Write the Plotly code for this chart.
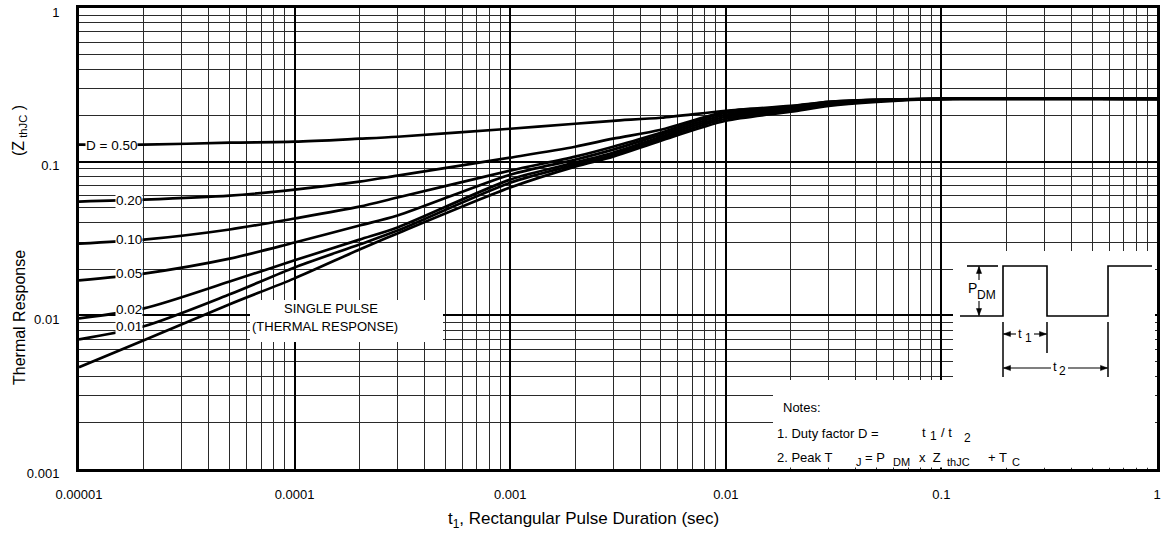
import plotly.graph_objects as go

# ---------------- data ----------------
t_sec = [1e-5, 2e-5, 5e-5, 1e-4, 2e-4, 3e-4, 1e-3, 2e-3, 3e-3, 5e-3,
         1e-2, 2e-2, 3e-2, 5e-2, 0.1, 1.0]

z_d050 = [0.1289, 0.1289, 0.1329, 0.1349, 0.1411, 0.1453, 0.1638, 0.1765, 0.1845, 0.1931,
          0.2144, 0.2310, 0.2453, 0.2527, 0.2565, 0.2565]
z_d020 = [0.0550, 0.0566, 0.0601, 0.0658, 0.0742, 0.0811, 0.1062, 0.1251, 0.1411, 0.1614,
          0.2112, 0.2276, 0.2453, 0.2527, 0.2565, 0.2565]
z_d010 = [0.0293, 0.0311, 0.0362, 0.0427, 0.0510, 0.0584, 0.0874, 0.1078, 0.1251, 0.1543,
          0.2081, 0.2242, 0.2416, 0.2527, 0.2565, 0.2565]
z_d005 = [0.0169, 0.0187, 0.0234, 0.0298, 0.0384, 0.0446, 0.0823, 0.1030, 0.1197, 0.1497,
          0.2019, 0.2209, 0.2380, 0.2489, 0.2565, 0.2565]
z_d002 = [0.00956, 0.0111, 0.0166, 0.0228, 0.0311, 0.0373, 0.0764, 0.0985, 0.1144, 0.1453,
          0.1960, 0.2176, 0.2345, 0.2489, 0.2565, 0.2565]
z_d001 = [0.00698, 0.00849, 0.0137, 0.0205, 0.0289, 0.0356, 0.0730, 0.0956, 0.1110, 0.1411,
          0.1902, 0.2144, 0.2345, 0.2489, 0.2565, 0.2565]
z_single = [0.00460, 0.00688, 0.0118, 0.0174, 0.0268, 0.0341, 0.0678, 0.0928, 0.1078, 0.1369,
            0.1845, 0.2112, 0.2310, 0.2453, 0.2565, 0.2565]

series = [("D = 0.50", z_d050), ("0.20", z_d020), ("0.10", z_d010), ("0.05", z_d005),
          ("0.02", z_d002), ("0.01", z_d001), ("SINGLE PULSE", z_single)]

x_tickvals = [1e-5, 1e-4, 1e-3, 1e-2, 1e-1, 1]
x_ticktext = ["0.00001", "0.0001", "0.001", "0.01", "0.1", "1"]
y_tickvals = [1e-3, 1e-2, 1e-1, 1]
y_ticktext = ["0.001", "0.01", "0.1", "1"]

# ---------------- layout geometry (pixels) ----------------
FW, FH = 1161, 538
L, R, T, B = 79, 1157, 8, 469    # plot area


def px(x):
    return (x - L) / (R - L)


def py(y):
    return (B - y) / (B - T)


FONT = "Liberation Sans, Arial, Helvetica, sans-serif"

fig = go.Figure()
for name, z in series:
    fig.add_trace(go.Scatter(x=t_sec, y=z, mode="lines", name=name,
                             line=dict(color="black", width=2.7, shape="spline", smoothing=0.8),
                             showlegend=False, hoverinfo="skip"))

minor_x = [k * 10.0 ** e for e in range(-5, 0) for k in range(2, 10)]
minor_y = [k * 10.0 ** e for e in range(-3, 0) for k in range(2, 10)]

axis_common = dict(
    showline=True, linecolor="black", linewidth=3, mirror=True,
    showgrid=True, gridcolor="black", gridwidth=2,
    ticks="", zeroline=False, automargin=False, ticklabeloverflow="allow",
    tickfont=dict(family=FONT, size=13, color="black"),
)

fig.update_xaxes(type="log", range=[-5, 0], tickmode="array",
                 tickvals=x_tickvals, ticktext=x_ticktext,
                 minor=dict(tickmode="array", tickvals=minor_x, showgrid=True,
                            gridcolor="#2a2a2a", gridwidth=1),
                 ticklabelstandoff=11, **axis_common)
fig.update_yaxes(type="log", range=[-3, 0], tickmode="array",
                 tickvals=y_tickvals, ticktext=y_ticktext,
                 minor=dict(tickmode="array", tickvals=minor_y, showgrid=True,
                            gridcolor="#2a2a2a", gridwidth=1),
                 ticklabelstandoff=14, ticklabelshift=4, **axis_common)

shapes = []
# white cut-outs hiding the grid (nothing from the curves lies under them)
for (x0, y0, x1, y1) in [(773, 380, 1155, 467.5), (953, 251, 1155, 467.5), (250, 300, 443, 342)]:
    shapes.append(dict(type="rect", xref="paper", yref="paper",
                       x0=px(x0), x1=px(x1), y0=py(y1), y1=py(y0),
                       fillcolor="white", line=dict(width=0), layer="above"))


def seg(x0, y0, x1, y1, w=1.5):
    shapes.append(dict(type="line", xref="paper", yref="paper",
                       x0=px(x0), y0=py(y0), x1=px(x1), y1=py(y1),
                       line=dict(color="black", width=w), layer="above"))


def poly(pts, fill=None, w=1.6):
    path = "M " + " L ".join(f"{px(a):.5f},{py(b):.5f}" for a, b in pts)
    if fill:
        path += " Z"
    d = dict(type="path", xref="paper", yref="paper", path=path,
             line=dict(color="black", width=w if not fill else 0.5), layer="above")
    if fill:
        d["fillcolor"] = fill
    shapes.append(d)


# waveform
poly([(960, 316), (1003, 316), (1003, 266), (1047, 266), (1047, 316),
      (1108, 316), (1108, 266), (1152, 266)])
seg(967, 266, 998, 266, 1.6)
# t1 / t2 extension lines
seg(1003, 322, 1003, 377)
seg(1047, 322, 1047, 353)
seg(1108, 322, 1108, 377)


def arrow(tipx, tipy, tailx, taily):
    seg(tailx, taily, tipx, tipy, 1.1)
    dx, dy = tipx - tailx, tipy - taily
    n = (dx * dx + dy * dy) ** 0.5
    ux, uy = dx / n, dy / n
    bx, by = tipx - 7 * ux, tipy - 7 * uy
    poly([(tipx, tipy), (bx - 2.6 * uy, by + 2.6 * ux), (bx + 2.6 * uy, by - 2.6 * ux)], fill="black")


arrow(979, 266.5, 979, 280)
arrow(979, 315.5, 979, 301)
arrow(1003.5, 334, 1016, 334)
arrow(1046.5, 334, 1034, 334)
arrow(1003.5, 368, 1051, 368)
arrow(1107.5, 368, 1068, 368)

annotations = []


def txt(x, y, s, size=13, xanchor="center", bg=None, pad=0, textangle=0):
    d = dict(xref="paper", yref="paper", x=px(x), y=py(y), text=s, showarrow=False,
             xanchor=xanchor, yanchor="middle", textangle=textangle,
             font=dict(family=FONT, size=size, color="black"), borderpad=pad)
    if bg:
        d["bgcolor"] = bg
    annotations.append(d)


# inset labels
txt(972, 288, "P", 14)
txt(986, 295, "DM", 12)
txt(1020, 333, "t", 13)
txt(1028, 338, "1", 12)
txt(1055, 366, "t", 13)
txt(1062, 371, "2", 12)

# curve labels
txt(111, 145, "D = 0.50", 13.5, bg="white")
txt(129, 200, "0.20", 13.5, bg="white")
txt(129, 240, "0.10", 13.5, bg="white")
txt(129, 273, "0.05", 13.5, bg="white")
txt(129, 309, "0.02", 13.5, bg="white")
txt(129, 326, "0.01", 13.5, bg="white")

# single pulse label
txt(331, 308, "SINGLE PULSE", 13)
txt(325, 327, "(THERMAL RESPONSE)", 13)

# notes
txt(782, 407, "Notes:", 13, xanchor="left")
txt(776, 433, "1. Duty factor D =", 13, xanchor="left")
txt(921, 432, "t", 13, xanchor="left")
txt(929, 436, "1", 12, xanchor="left")
txt(940, 432, "/ t", 13, xanchor="left")
txt(963, 438, "2", 12, xanchor="left")
txt(776, 457, "2. Peak T", 13, xanchor="left")
txt(855, 462, "J", 11, xanchor="left")
txt(864, 457, "= P", 13, xanchor="left")
txt(892, 462, "DM", 11, xanchor="left")
txt(918, 457, "x  Z", 13, xanchor="left")
txt(946, 462, "thJC", 11, xanchor="left")
txt(987, 457, "+ T", 13, xanchor="left")
txt(1011, 462, "C", 11, xanchor="left")

# axis titles
txt(19, 318, "Thermal Response", 16, textangle=-90)
txt(19, 131, "(Z<sub> thJC</sub> )", 16, textangle=-90)
txt(583, 520, "t<sub>1</sub>, Rectangular Pulse Duration (sec)", 17)

fig.update_layout(
    width=FW, height=FH,
    margin=dict(l=L, r=FW - R, t=T, b=FH - B, pad=0, autoexpand=False),
    paper_bgcolor="white", plot_bgcolor="white",
    shapes=shapes, annotations=annotations,
    font=dict(family=FONT, color="black"),
    showlegend=False,
)

fig.write_html(
    "out.html",
    config={"displayModeBar": False, "responsive": False},
    post_script="document.body.style.margin='0';document.body.style.padding='0';"
                "document.body.style.overflow='hidden';",
)
